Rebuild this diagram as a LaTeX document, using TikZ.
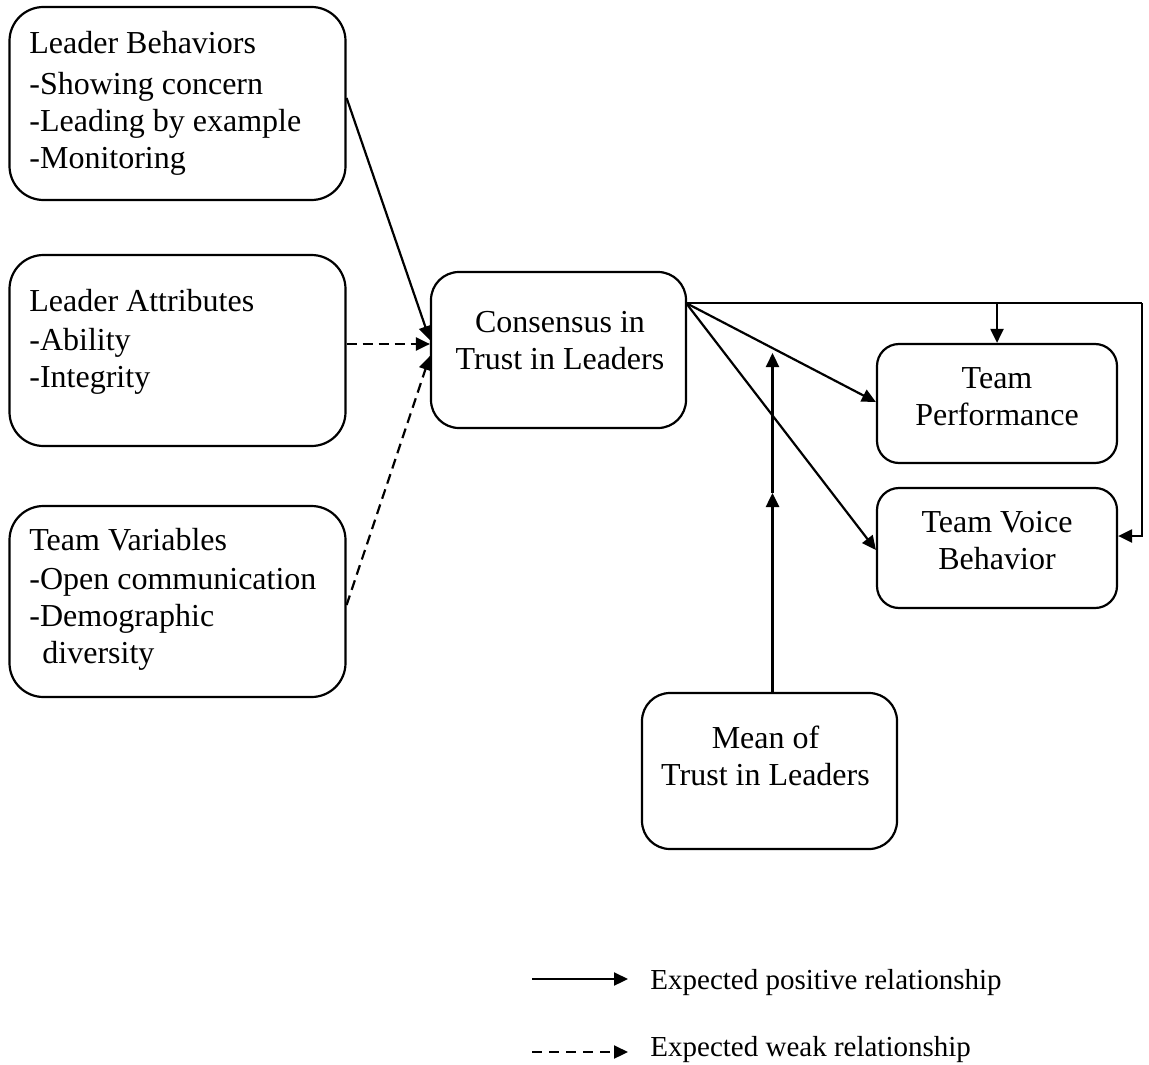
\documentclass[tikz,border=0pt]{standalone}
\usepackage{fontspec}
\setmainfont{Liberation Serif}
\usetikzlibrary{arrows.meta,calc}
\begin{document}
\begin{tikzpicture}[x=0.5pt,y=-0.5pt,
  box/.style={draw,line width=1.1pt,inner sep=0pt},
  txt/.style={inner sep=0pt,font=\fontsize{16}{18.5}\selectfont},
  ctxt/.style={txt,align=center,anchor=north},
  ltxt/.style={txt,align=left,anchor=north west},
  lgtxt/.style={inner sep=0pt,font=\fontsize{14.5}{17}\selectfont,anchor=base west},
  arr/.style={line width=1.1pt,-{Triangle[length=7pt,width=6.5pt]}},
  darr/.style={arr,dash pattern=on 5pt off 3pt}]
\useasboundingbox (0,0) rectangle (1149,1064);
% boxes
\node[box,rounded corners=17pt,minimum width=168pt,minimum height=96.5pt] (lb) at (177.5,103.5) {};
\node[box,rounded corners=17pt,minimum width=168pt,minimum height=95.5pt] (la) at (177.5,350.5) {};
\node[box,rounded corners=17pt,minimum width=168pt,minimum height=95.5pt] (tv) at (177.5,601.5) {};
\node[box,rounded corners=14pt,minimum width=127.5pt,minimum height=78pt] (cons) at (558.5,350) {};
\node[box,rounded corners=11pt,minimum width=120pt,minimum height=59.5pt] (tp) at (997,403.5) {};
\node[box,rounded corners=11pt,minimum width=120pt,minimum height=60pt] (tvb) at (997,548) {};
\node[box,rounded corners=14pt,minimum width=127.5pt,minimum height=78pt] (mean) at (769.5,771) {};
% texts
\node[ltxt] (lbt) at (29,31) {Leader Behaviors\\[2pt]-Showing concern\\-Leading by example\\-Monitoring};
\node[ltxt] (lat) at (29,289) {Leader Attributes\\[1pt]-Ability\\-Integrity};
\node[ltxt] (tvt) at (29,528) {Team Variables\\[1pt]-Open communication\\-Demographic\\\hspace*{6.5pt}diversity};
\node[ctxt] (const) at (560,311) {Consensus in\\Trust in Leaders};
\node[ctxt] (tpt) at (997,367) {Team\\Performance};
\node[ctxt] (tvbt) at (997,511) {Team Voice\\Behavior};
\node[ctxt] (meant) at (765.5,726) {Mean of\\Trust in Leaders};
% connectors into consensus
\draw[arr] ($(lb.east)+(0,-5.5)$) -- ($(cons.west)+(0,-10)$);
\draw[darr] ($(la.east)+(0,-6.5)$) -- ($(cons.west)+(0,-6)$);
\draw[darr] ($(tv.east)+(0,3.5)$) -- ($(cons.west)+(0,6)$);
% outputs
\coordinate (cout) at (686,303);
\coordinate (corner) at (1142,303);
\draw[arr] (cout) -- ($(tp.west)+(0,-1.5)$);
\draw[arr] (cout) -- ($(tvb.west)+(0,2)$);
\draw[line width=1.1pt] (cout) -- (corner);
\draw[arr] (corner) |- ($(tvb.east)+(0,-12)$);
\draw[arr] (tp.north |- cout) -- (tp.north);
% moderator
\coordinate (mbot) at (772.5,693);
\coordinate (mmid) at (772.5,493);
\coordinate (mtop) at (772.5,353);
\draw[arr,line width=1.3pt] (mbot) -- (mmid);
\draw[arr] (mmid) -- (mtop);
% legend
\coordinate (l1a) at (532,979);
\coordinate (l1b) at (628,979);
\coordinate (l2a) at (532,1052);
\coordinate (l2b) at (628,1052);
\draw[arr] (l1a) -- (l1b);
\draw[darr,dash pattern=on 5pt off 3.5pt] (l2a) -- (l2b);
\node[lgtxt] (lg1) at (650,989) {Expected positive relationship};
\node[lgtxt] (lg2) at (650,1056) {Expected weak relationship};
\end{tikzpicture}
\end{document}
